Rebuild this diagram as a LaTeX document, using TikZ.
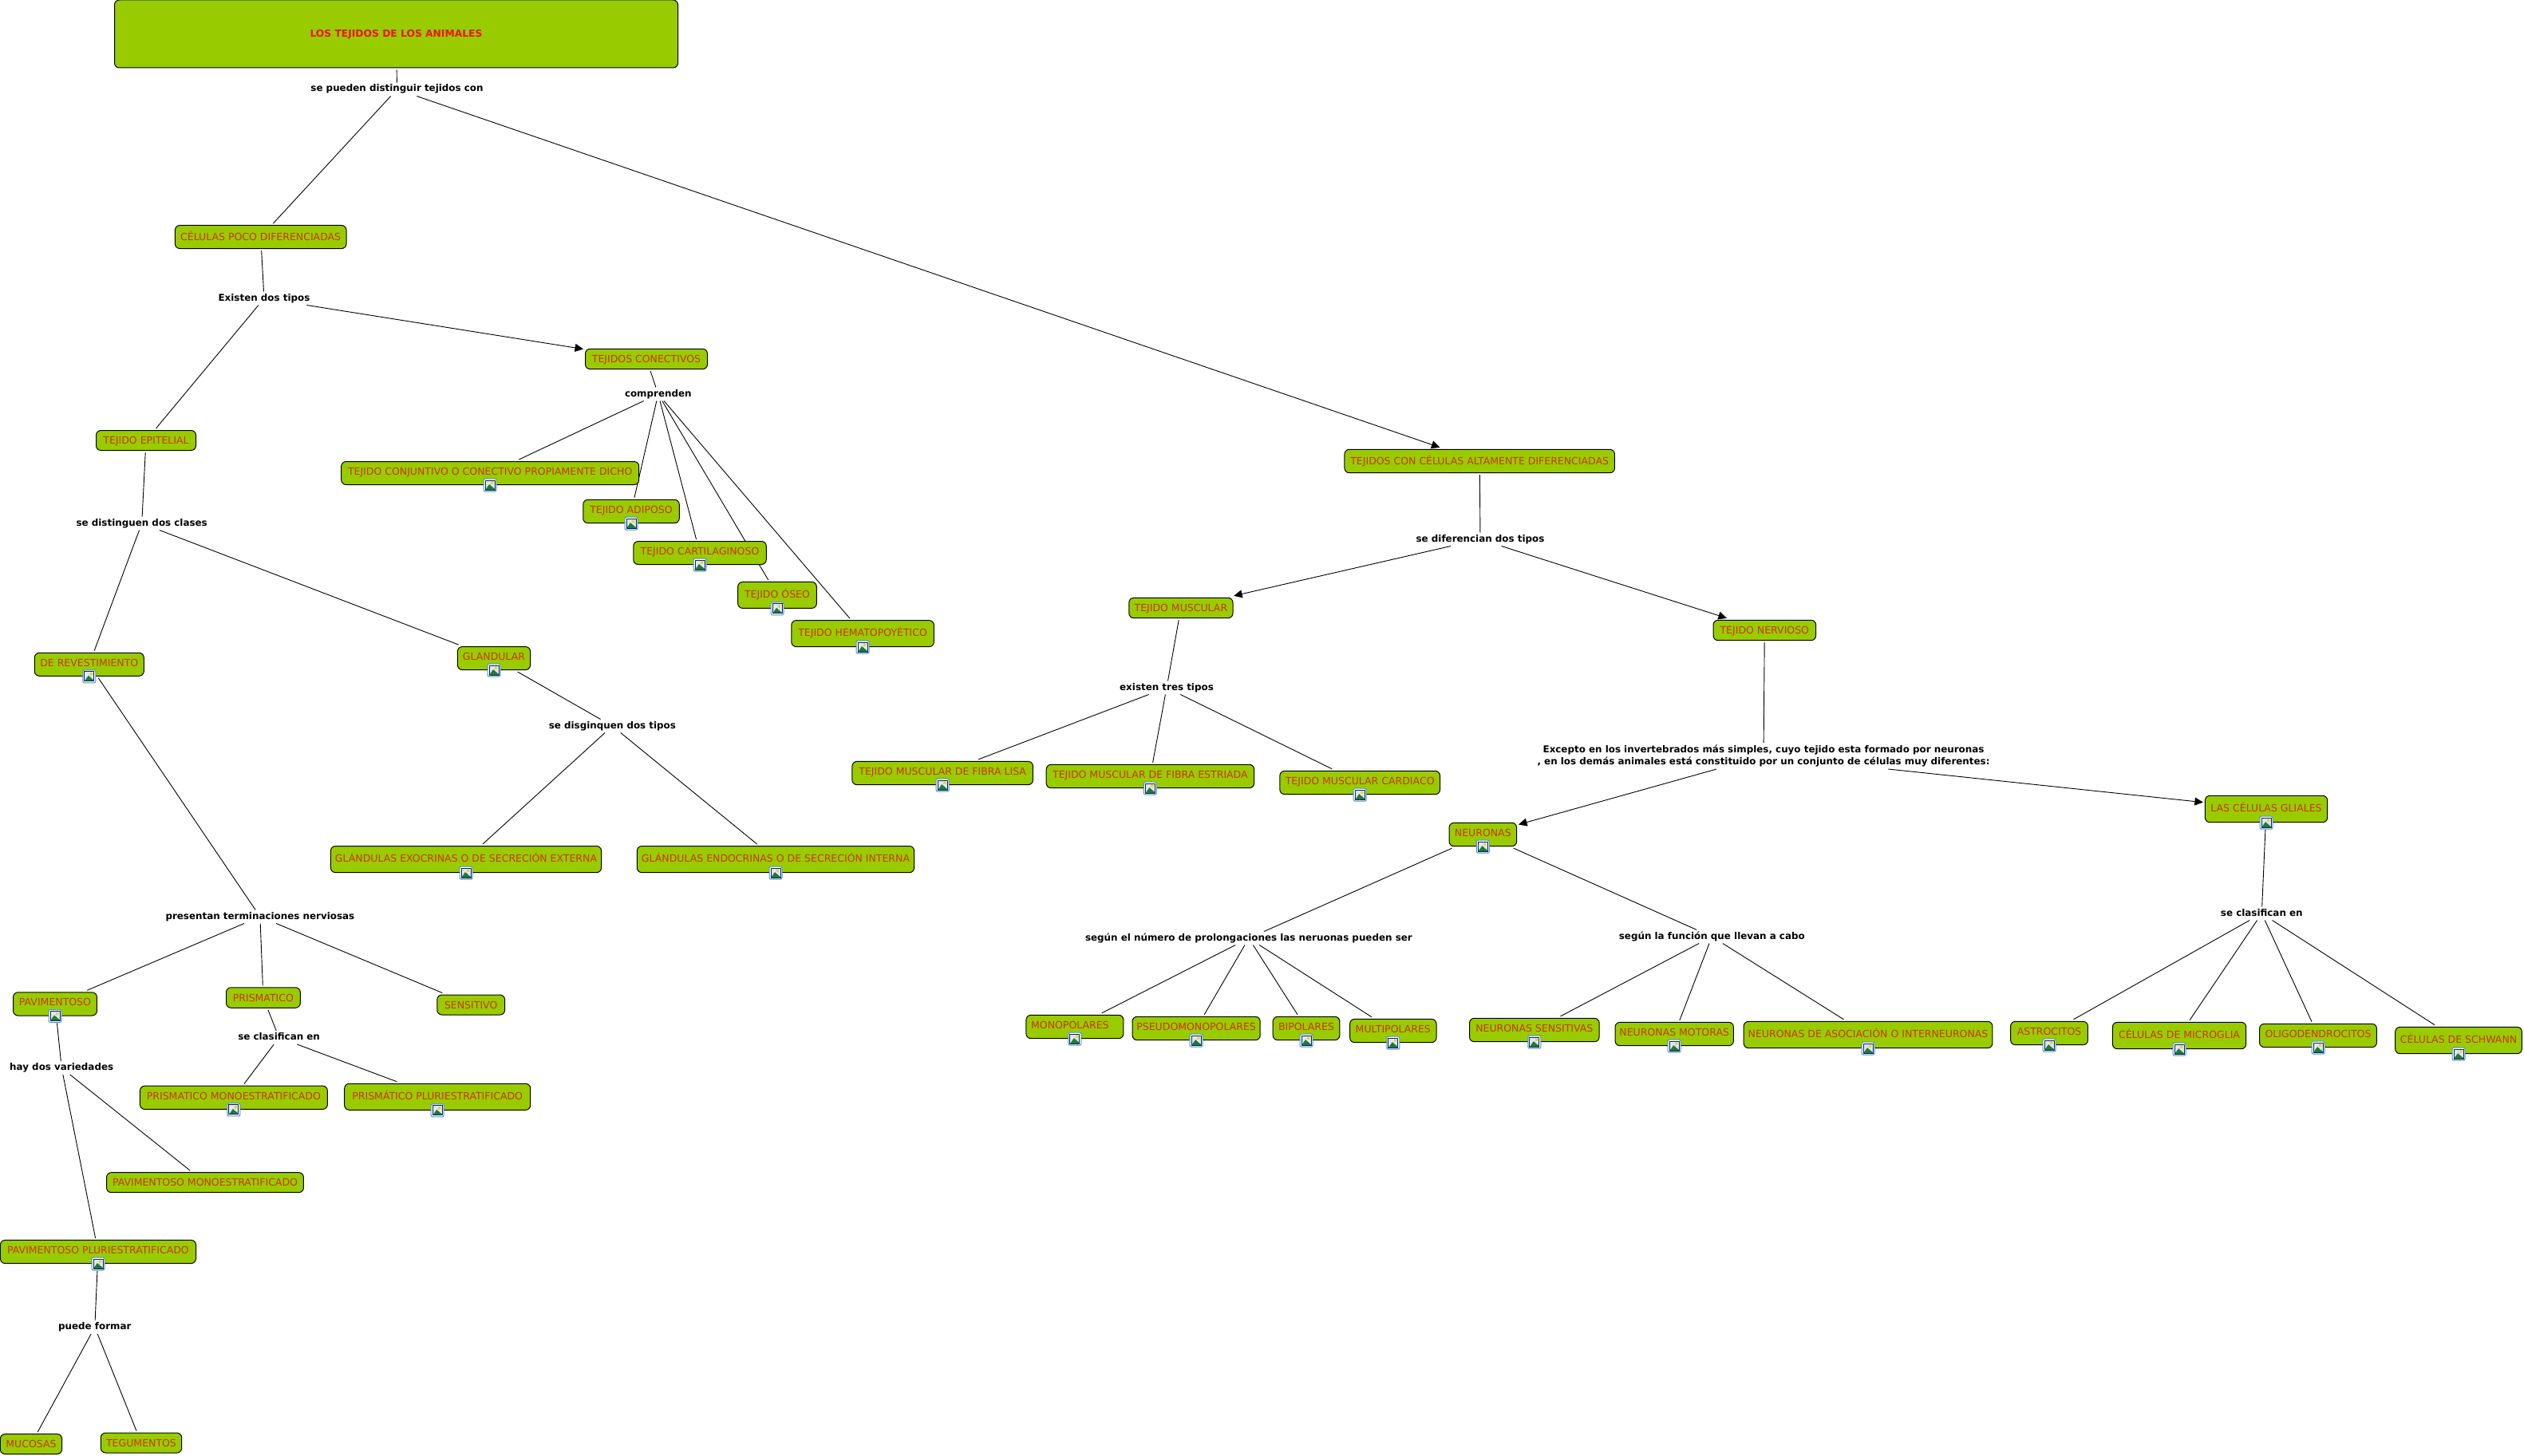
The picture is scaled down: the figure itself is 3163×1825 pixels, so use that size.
\documentclass[tikz,border=0pt]{standalone}
\usepackage{fontspec}
\setmainfont{DejaVu Sans}
\usepackage{tikz}
\usetikzlibrary{arrows.meta,backgrounds}
\definecolor{Leaf}{HTML}{99CC00}
\definecolor{Rust}{HTML}{CC3300}
\definecolor{Scarlet}{HTML}{EE1100}
\definecolor{IconBlue}{HTML}{4A8FDC}
\definecolor{IconNavy}{HTML}{12264F}
\definecolor{IconSky}{HTML}{DCE8F2}
\definecolor{IconHill}{HTML}{1F7A35}
\definecolor{IconSun}{HTML}{F2D048}
\tikzset{
  cpt/.style={draw=black,line width=1pt,rounded corners=6pt,fill=Leaf,text=Rust,inner sep=0pt,outer sep=2.5pt,
    font={\fontsize{12.5}{14}\selectfont},text height=9pt,text depth=0pt},
  cptimg/.style={cpt,text depth=4pt},
  cpttall/.style={cpt,text depth=2pt},
  sz/.style 2 args={minimum width=#1pt,minimum height=#2pt},
  lbl/.style={inner sep=0pt,inner xsep=4pt,outer sep=0pt,minimum height=17pt,text=black,
    font={\fontsize{11.9}{14.6}\selectfont\bfseries},text height=9pt,text depth=3pt},
  lbltwo/.style={inner sep=0pt,inner xsep=4pt,outer sep=0pt,minimum height=33pt,text=black,align=center,
    font={\fontsize{11.9}{14.6}\selectfont\bfseries}},
  conn/.style={line width=0.9pt,draw=black},
  arr/.style={conn,-{Triangle[length=10.5pt,width=10pt]}},
  imgicon/.pic={
    \draw[draw=IconBlue,fill=white,line width=1pt,rounded corners=2pt] (-8,-8) rectangle (8,8);
    \fill[IconSky] (-6,-6) rectangle (6,6);
    \fill[IconHill] (-6,6) -- (-1,-1) -- (6,5) -- (6,6) -- cycle;
    \fill[IconSun] (2.5,-3) circle (2);
    \draw[IconNavy,line width=1pt] (-6,-6) rectangle (6,6);
  },
}

\begin{document}
\begin{tikzpicture}[x=1pt,y=-1pt,line join=round]
\useasboundingbox (0,0) rectangle (3163,1825);
\node[cpt,sz={706}{85},text=Scarlet,font={\fontsize{12.3}{14}\selectfont\bfseries}] (titulo) at (496.5,42.5) {LOS TEJIDOS DE LOS ANIMALES};
\node[cpt,sz={214.6}{29.1}] (celpoco) at (326.7,297) {CÉLULAS POCO DIFERENCIADAS};
\node[cpt,sz={153}{25.3}] (conect) at (810,450) {TEJIDOS CONECTIVOS};
\node[cpt,sz={125}{25}] (epit) at (183,552) {TEJIDO EPITELIAL};
\node[cptimg,sz={373}{29}] (conj) at (614.2,593) {TEJIDO CONJUNTIVO O CONECTIVO PROPIAMENTE DICHO};
\node[cptimg,sz={120.5}{29.4}] (adip) at (791,641) {TEJIDO ADIPOSO};
\node[cptimg,sz={166.5}{29}] (cart) at (877,693) {TEJIDO CARTILAGINOSO};
\node[cpttall,sz={98.7}{33}] (oseo) at (974,745.9) {TEJIDO ÓSEO};
\node[cpttall,sz={178.6}{33}] (hema) at (1081.1,794.1) {TEJIDO HEMATOPOYÉTICO};
\node[cptimg,sz={91.2}{29}] (gland) at (619,825.1) {GLANDULAR};
\node[cpttall,sz={339.2}{33.1}] (exo) at (584,1077.1) {GLÁNDULAS EXOCRINAS O DE SECRECIÓN EXTERNA};
\node[cpttall,sz={347.3}{33.1}] (endo) at (972,1077.1) {GLÁNDULAS ENDOCRINAS O DE SECRECIÓN INTERNA};
\node[cptimg,sz={137}{29}] (rev) at (111.8,832.8) {DE REVESTIMIENTO};
\node[cptimg,sz={104.9}{29.2}] (pav) at (69,1258.4) {PAVIMENTOSO};
\node[cpt,sz={92.8}{25.5}] (prism) at (329.9,1250.5) {PRISMATICO};
\node[cpt,sz={84.8}{25}] (sensit) at (590.2,1259.5) {SENSITIVO};
\node[cptimg,sz={234.9}{29.3}] (pmono) at (292.9,1375.8) {PRISMATICO MONOESTRATIFICADO};
\node[cpttall,sz={233}{33}] (ppluri) at (548.2,1374.8) {PRISMÁTICO PLURIESTRATIFICADO};
\node[cpt,sz={246.9}{25}] (pavmono) at (257,1482.2) {PAVIMENTOSO MONOESTRATIFICADO};
\node[cptimg,sz={245.1}{29.2}] (pavpluri) at (123,1569) {PAVIMENTOSO PLURIESTRATIFICADO};
\node[cpt,sz={77.3}{25.1}] (mucosas) at (39,1810) {MUCOSAS};
\node[cpt,sz={101.4}{25}] (tegum) at (177,1808.5) {TEGUMENTOS};
\node[cpt,sz={338.5}{29.4}] (tdif) at (1854.2,578) {TEJIDOS CON CÉLULAS ALTAMENTE DIFERENCIADAS};
\node[cpt,sz={130.2}{25.4}] (musc) at (1479.9,762) {TEJIDO MUSCULAR};
\node[cpt,sz={128.6}{25.4}] (nerv) at (2211.3,790) {TEJIDO NERVIOSO};
\node[cptimg,sz={226.5}{29.3}] (lisa) at (1181.2,969) {TEJIDO MUSCULAR DE FIBRA LISA};
\node[cptimg,sz={260.4}{29.4}] (estr) at (1441.4,973) {TEJIDO MUSCULAR DE FIBRA ESTRIADA};
\node[cptimg,sz={200.7}{29.4}] (card) at (1704.2,981) {TEJIDO MUSCULAR CARDIACO};
\node[cptimg,sz={84.5}{29.4}] (neur) at (1858.3,1046) {NEURONAS};
\node[cpttall,sz={153.3}{33.4}] (glia) at (2840,1014) {LAS CÉLULAS GLIALES};
\node[cptimg,sz={121.9}{29.4}] (mono) at (1346.9,1287) {MONOPOLARES\kern12pt};
\node[cptimg,sz={160.2}{29.4}] (pseu) at (1499.1,1289) {PSEUDOMONOPOLARES};
\node[cptimg,sz={83.7}{29.4}] (bip) at (1637,1289) {BIPOLARES};
\node[cptimg,sz={108.4}{29.4}] (mult) at (1745.8,1292) {MULTIPOLARES};
\node[cptimg,sz={162.6}{29.4}] (sens) at (1922.8,1291) {NEURONAS SENSITIVAS};
\node[cptimg,sz={148.3}{29.4}] (mot) at (2098.2,1296) {NEURONAS MOTORAS};
\node[cpttall,sz={311.7}{33.4}] (asoc) at (2341,1297) {NEURONAS DE ASOCIACIÓN O INTERNEURONAS};
\node[cptimg,sz={96.8}{29.4}] (astr) at (2568,1295) {ASTROCITOS};
\node[cpttall,sz={167.3}{33.4}] (micr) at (2731,1298) {CÉLULAS DE MICROGLIA};
\node[cptimg,sz={146.9}{29.4}] (oligo) at (2905,1298) {OLIGODENDROCITOS};
\node[cpttall,sz={158.7}{33.4}] (schw) at (3081,1304) {CÉLULAS DE SCHWANN};
\node[lbl] (ltit) at (497.5,112) {se pueden distinguir tejidos con};
\node[lbl] (lex) at (331,374) {Existen dos tipos};
\node[lbl] (lcomp) at (824.8,494) {comprenden};
\node[lbl] (ldist) at (177.7,656) {se distinguen dos clases};
\node[lbl] (ldisg) at (767.4,910) {se disginquen dos tipos};
\node[lbl] (lpres) at (325.9,1149) {presentan terminaciones nerviosas};
\node[lbl] (lclas) at (349.6,1300.5) {se clasifican en};
\node[lbl] (lhay) at (77.2,1338.5) {hay dos variedades};
\node[lbl] (lform) at (118.8,1663.5) {puede formar};
\node[lbl] (ldif) at (1855,676) {se diferencian dos tipos};
\node[lbl] (lexi) at (1462,862) {existen tres tipos};
\node[lbltwo] (lexc) at (2210,947.5) {Excepto en los invertebrados más simples, cuyo tejido esta formado por neuronas\\, en los demás animales está constituido por un conjunto de células muy diferentes:};
\node[lbl] (lnum) at (1564.9,1176) {según el número de prolongaciones las neruonas pueden ser};
\node[lbl] (lfun) at (2145.3,1174) {según la función que llevan a cabo};
\node[lbl] (lgli) at (2834.3,1145) {se clasifican en};
\foreach \nd in {conj,adip,cart,oseo,hema,gland,exo,endo,rev,pav,pmono,ppluri,pavpluri,lisa,estr,card,neur,glia,mono,pseu,bip,mult,sens,mot,asoc,astr,micr,oligo,schw}
  \pic at ([yshift=2pt]\nd.south) {imgicon};
\begin{pgfonlayer}{background}
\foreach \a/\b in {titulo/ltit,ltit/celpoco,celpoco/lex,lex/epit,conect/lcomp,lcomp/conj,lcomp/adip,lcomp/cart,lcomp/oseo,lcomp/hema,
  epit/ldist,ldist/rev,ldist/gland,gland/ldisg,ldisg/exo,ldisg/endo,rev/lpres,lpres/pav,lpres/prism,lpres/sensit,prism/lclas,lclas/pmono,lclas/ppluri,
  lhay/pavmono,lhay/pavpluri,lform/mucosas,lform/tegum,tdif/ldif,musc/lexi,lexi/lisa,lexi/estr,lexi/card,nerv/lexc,neur/lnum,neur/lfun,
  lnum/mono,lnum/pseu,lnum/bip,lnum/mult,lfun/sens,lfun/mot,lfun/asoc,lgli/astr,lgli/micr,lgli/oligo,lgli/schw}
  \draw[conn] (\a) -- (\b);
\foreach \a/\b in {pav/lhay,pavpluri/lform,glia/lgli}
  \draw[conn,shorten <=7pt] (\a) -- (\b);
\foreach \a/\b in {ltit/tdif,lex/conect,ldif/musc,ldif/nerv,lexc/neur,lexc/glia}
  \draw[arr] (\a) -- (\b);
\end{pgfonlayer}
\end{tikzpicture}
\end{document}
